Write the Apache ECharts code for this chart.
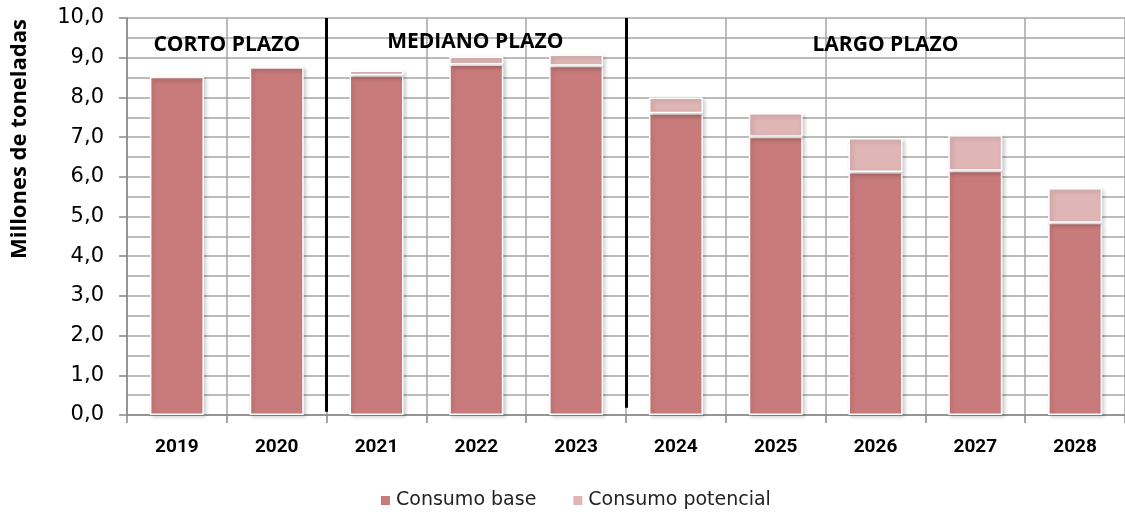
<!DOCTYPE html>
<html>
<head>
<meta charset="utf-8">
<script src="https://cdn.jsdelivr.net/npm/echarts@6/dist/echarts.min.js"></script>
<style>
  html, body { margin: 0; padding: 0; background: #fff; }
  #chart { width: 1125px; height: 515px; }
</style>
</head>
<body>
<div id="chart"></div>
<script>
// datos
var years = ['2019', '2020', '2021', '2022', '2023', '2024', '2025', '2026', '2027', '2028'];
var consumoBase = [8.52, 8.76, 8.56, 8.83, 8.80, 7.60, 7.01, 6.12, 6.15, 4.84];
var consumoPotencial = [0, 0, 0.12, 0.20, 0.28, 0.40, 0.60, 0.86, 0.90, 0.88];
var yTicks = [0, 1, 2, 3, 4, 5, 6, 7, 8, 9, 10];

// separadores de plazos (posicion en eje auxiliar 0-10 = limites de categoria)
var separadores = [2, 5];
var plazos = [
  { name: 'CORTO PLAZO', x: 1.0, y: 9.32 },
  { name: 'MEDIANO PLAZO', x: 3.49, y: 9.4 },
  { name: 'LARGO PLAZO', x: 7.6, y: 9.32 }
];

var gridColor = '#a6a6a6';
var chart = echarts.init(document.getElementById('chart'));

chart.setOption({
  animation: false,
  grid: {
    left: 127,
    right: -5,
    top: 18,
    bottom: 100
  },
  legend: {
    data: ['Consumo base', 'Consumo potencial'],
    bottom: 0,
    left: 374,
    icon: 'rect',
    itemWidth: 11,
    itemHeight: 11,
    itemGap: 35,
    textStyle: {
      fontFamily: 'DejaVu Sans',
      fontSize: 19,
      color: '#222'
    }
  },
  graphic: [{
    type: 'text',
    x: 20,
    y: 139,
    rotation: Math.PI / 2,
    style: {
      text: 'Millones de toneladas',
      fontFamily: 'Open Sans',
      fontWeight: 'bold',
      fontSize: 22,
      fill: '#000',
      align: 'center',
      verticalAlign: 'middle'
    }
  }],
  xAxis: [
    {
      type: 'category',
      data: years,
      axisLine: { lineStyle: { color: '#888', width: 1.5 } },
      axisTick: { show: true, length: 8, lineStyle: { color: '#888', width: 1.5 } },
      splitLine: { show: true, lineStyle: { color: gridColor, width: 1.5 } },
      axisLabel: {
        margin: 23,
        color: '#000',
        fontFamily: 'Roboto',
        fontWeight: 'bold',
        fontSize: 19
      }
    },
    {
      // eje auxiliar para ubicar separadores y textos
      type: 'value',
      min: 0,
      max: 10,
      show: false
    }
  ],
  yAxis: {
    type: 'value',
    min: 0,
    max: 10,
    interval: 1,
    axisLine: { show: true, lineStyle: { color: '#888', width: 1.5 } },
    axisTick: { show: true, length: 8, lineStyle: { color: '#888', width: 1.5 } },
    splitLine: { show: true, lineStyle: { color: gridColor, width: 1.5 } },
    minorTick: { show: false, splitNumber: 2 },
    minorSplitLine: { show: true, lineStyle: { color: gridColor, width: 1.5 } },
    axisLabel: {
      margin: 23,
      color: '#000',
      fontFamily: 'DejaVu Sans',
      fontSize: 21,
      formatter: function (v) {
        if (yTicks.indexOf(v) < 0) return '';
        return v.toFixed(1).replace('.', ',');
      }
    }
  },
  series: [
    {
      name: 'Consumo base',
      type: 'bar',
      stack: 'total',
      barWidth: 54,
      data: consumoBase,
      itemStyle: {
        color: '#c97b7b',
        borderColor: '#fff',
        borderWidth: 1.5,
        shadowBlur: 4,
        shadowColor: 'rgba(0,0,0,0.2)',
        shadowOffsetX: 2,
        shadowOffsetY: 2
      }
    },
    {
      name: 'Consumo potencial',
      type: 'bar',
      stack: 'total',
      barWidth: 54,
      data: consumoPotencial,
      itemStyle: {
        color: '#dfb5b5',
        borderColor: '#fff',
        borderWidth: 1.5,
        shadowBlur: 4,
        shadowColor: 'rgba(0,0,0,0.2)',
        shadowOffsetX: 2,
        shadowOffsetY: 2
      }
    },
    {
      name: 'plazos',
      type: 'line',
      xAxisIndex: 1,
      data: [[0, 0]],
      symbol: 'none',
      lineStyle: { width: 0 },
      silent: true,
      z: 5,
      markLine: {
        symbol: 'none',
        silent: true,
        label: { show: false },
        lineStyle: { color: '#000', width: 3, type: 'solid', opacity: 1 },
        data: separadores.map(function (s, i) {
          var bot = i === 0 ? 0.08 : 0.18;
          return [{ coord: [s, 10] }, { coord: [s, bot] }];
        })
      },
      markPoint: {
        symbol: 'rect',
        symbolSize: 0,
        silent: true,
        label: {
          show: true,
          position: 'inside',
          color: '#000',
          fontFamily: 'Open Sans',
          fontWeight: 'bold',
          fontSize: 21,
          formatter: function (p) { return p.name; }
        },
        data: plazos.map(function (p) {
          return { name: p.name, coord: [p.x, p.y] };
        })
      }
    }
  ]
});
</script>
</body>
</html>
